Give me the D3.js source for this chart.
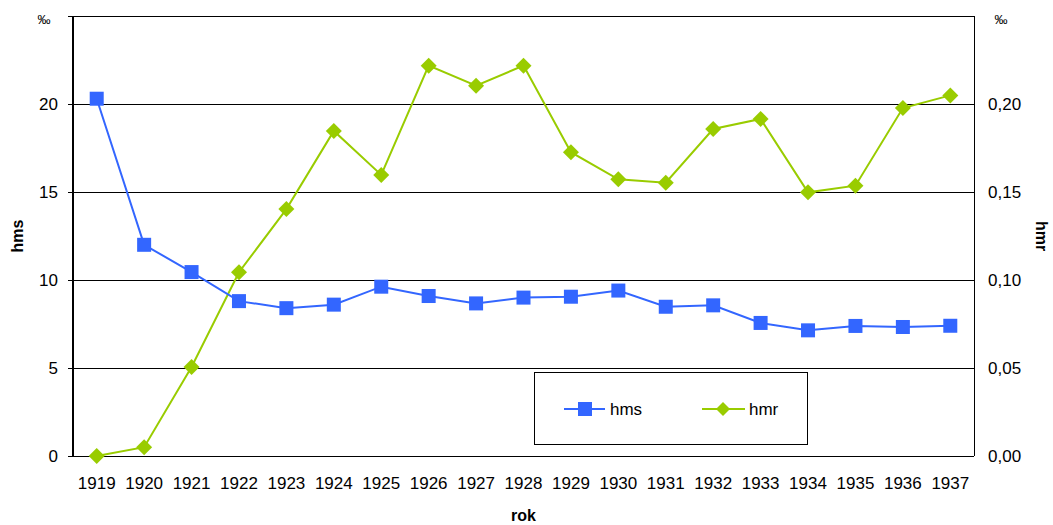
<!DOCTYPE html>
<html>
<head>
<meta charset="utf-8">
<script src="https://cdn.jsdelivr.net/npm/d3@7"></script>
<style>
  body { margin: 0; background: #fff; }
  svg { display: block; font-family: "Liberation Sans", Arial, sans-serif; }
</style>
</head>
<body>
<div id="chart"></div>
<script>
// Data
const years = ["1919", "1920", "1921", "1922", "1923", "1924", "1925", "1926", "1927", "1928",
               "1929", "1930", "1931", "1932", "1933", "1934", "1935", "1936", "1937"];
const hms = [20.3, 12.0, 10.45, 8.8, 8.4, 8.6, 9.62, 9.09, 8.67, 9.0,
             9.05, 9.4, 8.48, 8.56, 7.56, 7.14, 7.39, 7.33, 7.4];
const hmr = [0.0, 0.005, 0.0506, 0.1044, 0.1403, 0.1847, 0.1597, 0.2218, 0.2104, 0.2218,
             0.1726, 0.1572, 0.1553, 0.1858, 0.1915, 0.1498, 0.1536, 0.1977, 0.2049];
const leftTicks = [0, 5, 10, 15, 20];
const rightTicks = [0, 0.05, 0.10, 0.15, 0.20];

const W = 1053, H = 525;
const margin = { top: 16, right: 79, bottom: 69, left: 73 };
const width = W - margin.left - margin.right;
const height = H - margin.top - margin.bottom;

const blue = "#3366ff";
const green = "#99cc00";
const fs = 17;

const svg = d3.select("#chart")
    .append("svg")
    .attr("width", W)
    .attr("height", H);

const g = svg.append("g")
    .attr("transform", `translate(${margin.left},${margin.top})`);

// Scales
const x = d3.scaleBand().domain(years).range([0, width]);
const yL = d3.scaleLinear().domain([0, 25]).range([height, 0]);
const yR = d3.scaleLinear().domain([0, 0.25]).range([height, 0]);
const cx = d => x(d) + x.bandwidth() / 2;

// Gridlines
g.append("g")
    .selectAll("line")
    .data(leftTicks.concat([25]))
    .join("line")
    .attr("x1", -5).attr("x2", width)
    .attr("y1", d => Math.round(yL(d)) + 0.5)
    .attr("y2", d => Math.round(yL(d)) + 0.5)
    .attr("stroke", "#000")
    .attr("stroke-width", 1);

// Plot frame sides
g.append("line").attr("x1", 0).attr("x2", 0).attr("y1", 0).attr("y2", height + 1)
    .attr("stroke", "#000").attr("stroke-width", 2);
g.append("line").attr("x1", width + 0.5).attr("x2", width + 0.5).attr("y1", 0).attr("y2", height)
    .attr("stroke", "#000").attr("stroke-width", 1);

// Axes
const fmtR = d => d3.format(".2f")(d).replace(".", ",");
const styleAxis = sel => {
    sel.select(".domain").remove();
    sel.selectAll("text").attr("font-size", fs).attr("fill", "#000")
        .attr("font-family", "Liberation Sans, Arial, sans-serif");
};

g.append("g")
    .call(d3.axisLeft(yL).tickValues(leftTicks).tickSize(0).tickPadding(15))
    .call(styleAxis);

g.append("g")
    .attr("transform", `translate(${width},0)`)
    .call(d3.axisRight(yR).tickValues(rightTicks).tickFormat(fmtR).tickSize(0).tickPadding(14))
    .call(styleAxis);

g.append("g")
    .attr("transform", `translate(0,${height})`)
    .call(d3.axisBottom(x).tickSize(0).tickPadding(21))
    .call(styleAxis);

// Axis titles
svg.append("text").attr("x", 44).attr("y", 24).attr("text-anchor", "middle")
    .attr("font-size", 13).text("‰");
svg.append("text").attr("x", 1001).attr("y", 24).attr("text-anchor", "middle")
    .attr("font-size", 13).text("‰");
svg.append("text")
    .attr("transform", `translate(23,${margin.top + height / 2}) rotate(-90)`)
    .attr("text-anchor", "middle").attr("font-size", 16).attr("font-weight", "bold").text("hms");
svg.append("text")
    .attr("transform", `translate(1036,${margin.top + height / 2}) rotate(90)`)
    .attr("text-anchor", "middle").attr("font-size", 16).attr("font-weight", "bold").text("hmr");
svg.append("text")
    .attr("x", margin.left + width / 2).attr("y", 521)
    .attr("text-anchor", "middle").attr("font-size", 16).attr("font-weight", "bold").text("rok");

// Lines
const lineL = d3.line().x((d, i) => cx(years[i])).y(d => yL(d));
const lineR = d3.line().x((d, i) => cx(years[i])).y(d => yR(d));

g.append("path").datum(hmr).attr("d", lineR)
    .attr("fill", "none").attr("stroke", green).attr("stroke-width", 2);
g.append("path").datum(hms).attr("d", lineL)
    .attr("fill", "none").attr("stroke", blue).attr("stroke-width", 2);

// Markers
const sq = 14, dm = 8;
g.selectAll("rect.hms")
    .data(hms)
    .join("rect")
    .attr("class", "hms")
    .attr("x", (d, i) => cx(years[i]) - sq / 2)
    .attr("y", d => yL(d) - sq / 2)
    .attr("width", sq).attr("height", sq)
    .attr("fill", blue);

const diamond = (px, py, r) => `M${px},${py - r}L${px + r},${py}L${px},${py + r}L${px - r},${py}Z`;
g.selectAll("path.hmr")
    .data(hmr)
    .join("path")
    .attr("class", "hmr")
    .attr("d", (d, i) => diamond(cx(years[i]), yR(d), dm))
    .attr("fill", green);

// Legend
const lg = svg.append("g");
lg.append("rect").attr("x", 534.5).attr("y", 372.5).attr("width", 273).attr("height", 72)
    .attr("fill", "#fff").attr("stroke", "#000").attr("stroke-width", 1);

lg.append("line").attr("x1", 564).attr("x2", 605).attr("y1", 409).attr("y2", 409)
    .attr("stroke", blue).attr("stroke-width", 2);
lg.append("rect").attr("x", 578).attr("y", 402).attr("width", sq).attr("height", sq).attr("fill", blue);
lg.append("text").attr("x", 610).attr("y", 415).attr("font-size", fs).text("hms");

lg.append("line").attr("x1", 702).attr("x2", 745).attr("y1", 409).attr("y2", 409)
    .attr("stroke", green).attr("stroke-width", 2);
lg.append("path").attr("d", diamond(723, 409, 7)).attr("fill", green);
lg.append("text").attr("x", 749).attr("y", 415).attr("font-size", fs).text("hmr");
</script>
</body>
</html>
